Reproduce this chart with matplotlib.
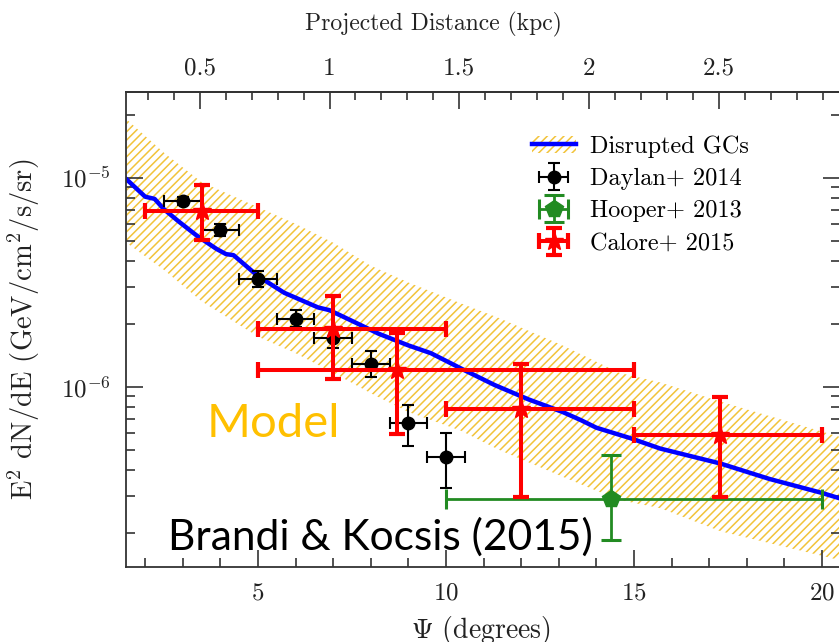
import numpy as np
import matplotlib
matplotlib.use('Agg')
import matplotlib.pyplot as plt
from matplotlib.patches import Patch
from matplotlib.container import ErrorbarContainer
from matplotlib.legend_handler import HandlerErrorbar
from matplotlib.ticker import MultipleLocator, FuncFormatter, LogLocator, NullFormatter

plt.rcParams['font.family'] = 'cmr10'
plt.rcParams['mathtext.fontset'] = 'cm'
plt.rcParams['axes.formatter.use_mathtext'] = True
plt.rcParams['hatch.linewidth'] = 1.1

# model band (disrupted globular clusters)
band_x = [1.5, 2.5, 3.5, 5, 6, 7, 8, 9, 10.4, 11.4, 13.1, 14.6, 15.7, 17.3, 20.5]
band_hi = [1.91e-5, 1.32e-5, 9.55e-6, 7.24e-6, 6.03e-6, 4.90e-6, 3.80e-6, 3.16e-6,
           2.51e-6, 2.14e-6, 1.58e-6, 1.17e-6, 1.05e-6, 8.51e-7, 5.75e-7]
band_lo = [4.90e-6, 3.63e-6, 2.57e-6, 1.74e-6, 1.45e-6, 1.17e-6, 9.33e-7, 7.59e-7,
           6.17e-7, 5.01e-7, 3.72e-7, 2.88e-7, 2.63e-7, 2.04e-7, 1.48e-7]

# model median line
model_x = [1.5, 2.0, 2.25, 2.5, 2.9, 3.4, 3.9, 4.15, 4.35, 5.0, 5.7, 6.6, 6.9, 7.5,
           8.2, 9.0, 9.6, 10.5, 11.3, 12.2, 13.1, 13.6, 14.0, 14.9, 15.7, 17.3, 18.6, 20.0, 20.5]
model_y = [9.86e-6, 8.13e-6, 7.94e-6, 7.08e-6, 6.17e-6, 5.25e-6, 4.57e-6, 4.32e-6, 4.27e-6,
           3.39e-6, 2.82e-6, 2.40e-6, 2.33e-6, 2.07e-6, 1.80e-6, 1.58e-6, 1.45e-6, 1.20e-6,
           1.02e-6, 8.71e-7, 7.59e-7, 6.92e-7, 6.38e-7, 5.69e-7, 5.07e-7, 4.30e-7, 3.63e-7,
           3.11e-7, 2.92e-7]

# Daylan+ 2014
daylan_x = [3, 4, 5, 6, 7, 8, 9, 10]
daylan_y = [7.74e-6, 5.66e-6, 3.27e-6, 2.12e-6, 1.71e-6, 1.29e-6, 6.73e-7, 4.62e-7]
daylan_lo = [7.4e-6, 5.3e-6, 3.0e-6, 1.93e-6, 1.54e-6, 1.12e-6, 5.22e-7, 3.27e-7]
daylan_hi = [8.1e-6, 6.05e-6, 3.57e-6, 2.34e-6, 1.9e-6, 1.48e-6, 8.2e-7, 6.03e-7]

# Hooper+ 2013
hooper_x = [14.4]
hooper_xlo = [10]
hooper_xhi = [20]
hooper_y = [2.92e-7]
hooper_lo = [1.86e-7]
hooper_hi = [4.71e-7]

# Calore+ 2015
calore_x = [3.5, 7, 8.7, 12, 17.3]
calore_xlo = [2, 5, 5, 10, 15]
calore_xhi = [5, 10, 15, 15, 20]
calore_y = [6.95e-6, 1.9e-6, 1.2e-6, 7.88e-7, 5.88e-7]
calore_lo = [5.03e-6, 1.09e-6, 5.94e-7, 2.98e-7, 2.98e-7]
calore_hi = [9.2e-6, 2.71e-6, 1.81e-6, 1.29e-6, 8.95e-7]

kpc_ticks_major = 0.5
kpc_ticks_minor = 0.1
r_sun = 8.3


def asym(c, lo, hi):
    c = np.array(c, float)
    return [c - np.array(lo, float), np.array(hi, float) - c]


fig = plt.figure(figsize=(8.39, 6.42), dpi=100)
ax = fig.add_axes([0.1502, 0.1173, 0.851, 0.739])

hatch_col = '#F2C33A'
ax.fill_between(band_x, band_lo, band_hi, facecolor='none', edgecolor=hatch_col,
                hatch='////', linewidth=0, zorder=1)
line, = ax.plot(model_x, model_y, color='#0000FF', lw=3.2, zorder=2)

d = ax.errorbar(daylan_x, daylan_y, xerr=0.5, yerr=asym(daylan_y, daylan_lo, daylan_hi),
                fmt='o', color='black', ms=9, elinewidth=1.5, capsize=4.5, capthick=1.5, zorder=3)
h = ax.errorbar(hooper_x, hooper_y, xerr=asym(hooper_x, hooper_xlo, hooper_xhi),
                yerr=asym(hooper_y, hooper_lo, hooper_hi),
                fmt='p', color='#228B22', ms=13, elinewidth=2.0, capsize=7, capthick=2.2, zorder=4)
c = ax.errorbar(calore_x, calore_y, xerr=asym(calore_x, calore_xlo, calore_xhi),
                yerr=asym(calore_y, calore_lo, calore_hi),
                fmt='*', color='#FF0000', ms=14, elinewidth=2.9, capsize=5.5, capthick=3, zorder=5)

ax.set_yscale('log')
ax.set_xlim(1.49, 20.48)
ax.set_ylim(1.38e-7, 2.57e-5)

ax.xaxis.set_major_locator(MultipleLocator(5))
ax.xaxis.set_minor_locator(MultipleLocator(1))
ax.yaxis.set_major_locator(LogLocator(base=10))
ax.yaxis.set_minor_locator(LogLocator(base=10, subs=np.arange(2, 10)))
ax.yaxis.set_minor_formatter(NullFormatter())

ax.tick_params(which='both', direction='in', top=False, right=True, colors='#333333',
               labelcolor='#222222', labelsize=18, pad=11)
ax.tick_params(which='major', length=12, width=1.2)
ax.tick_params(which='minor', length=6.5, width=1.2)
for s in ax.spines.values():
    s.set_color('#333333')
    s.set_linewidth(1.3)

ax.set_xlabel(r'$\Psi$ (degrees)', fontsize=20, color='#222222')
ax.xaxis.set_label_coords(0.497, -0.100)
ax.set_ylabel(r'E$^2$ dN/dE (GeV/cm$^2$/s/sr)', fontsize=20.5, color='#222222')
ax.yaxis.set_label_coords(-0.118, 0.5)

sec = ax.secondary_xaxis('top', functions=(lambda v: v * np.pi / 180 * r_sun,
                                           lambda k: k / r_sun * 180 / np.pi))
sec.xaxis.set_major_locator(MultipleLocator(kpc_ticks_major))
sec.xaxis.set_minor_locator(MultipleLocator(kpc_ticks_minor))
sec.xaxis.set_major_formatter(FuncFormatter(lambda v, p: '%g' % v))
sec.tick_params(which='both', direction='in', colors='#333333', labelcolor='#222222',
                labelsize=18, pad=9)
sec.tick_params(which='major', length=12, width=1.2)
sec.tick_params(which='minor', length=6, width=1.2)
sec.spines['top'].set_color('#333333')
sec.spines['top'].set_linewidth(1.3)
sec.set_xlabel('Projected Distance (kpc)', fontsize=17, color='#222222')
sec.xaxis.set_label_coords(0.43, 1.131, transform=ax.transAxes)

band_handle = Patch(facecolor='none', edgecolor=hatch_col, hatch='////', linewidth=0)
ax.legend([(band_handle, line), d, h, c],
          ['Disrupted GCs', 'Daylan+ 2014', 'Hooper+ 2013', 'Calore+ 2015'],
          loc='upper left', bbox_to_anchor=(0.555, 0.93), frameon=False, fontsize=17.5,
          handlelength=1.8, handletextpad=0.6, labelspacing=0.42, borderaxespad=0,
          handler_map={ErrorbarContainer: HandlerErrorbar(xerr_size=0.6, yerr_size=0.55)})

ax.text(0.113, 0.273, 'Model', transform=ax.transAxes, fontsize=34, color='#FFC000',
        family='Lato', va='baseline', zorder=6)
ax.text(0.059, 0.035, 'Brandi & Kocsis (2015)', transform=ax.transAxes, fontsize=30.6,
        color='black', family='Lato', va='baseline', zorder=6)

fig.savefig('out.png', dpi=100)
